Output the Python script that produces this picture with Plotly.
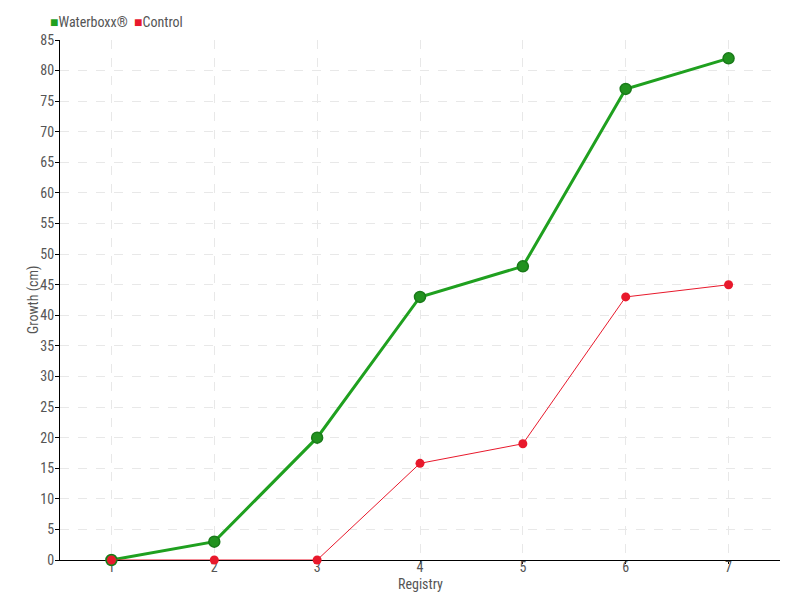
import plotly.graph_objects as go

registry = [1, 2, 3, 4, 5, 6, 7]
waterboxx = [0, 3, 20, 43, 48, 77, 82]
control = [0, 0, 0, 15.8, 19, 43, 45]
y_ticks = list(range(0, 90, 5))
series_names = ["Waterboxx®", "Control"]
x_title = "Registry"
y_title = "Growth (cm)"

FONT = "Liberation Sans Narrow, Roboto Condensed, Arial Narrow, sans-serif"
GREEN = "#1fa01f"
RED = "#e8192c"
TXT = "#555555"

fig = go.Figure()
fig.add_trace(go.Scatter(
    x=registry, y=waterboxx, name=series_names[0], mode="lines+markers", showlegend=False,
    line=dict(color=GREEN, width=3), cliponaxis=False,
    marker=dict(size=11, color="#22921f", line=dict(color="#197a19", width=1.5)),
))
fig.add_trace(go.Scatter(
    x=registry, y=control, name=series_names[1], mode="lines+markers", showlegend=False,
    line=dict(color=RED, width=1), cliponaxis=False,
    marker=dict(size=9, color=RED),
))

legend_text = (f"<span style='color:{GREEN}'>■</span>{series_names[0]}  "
               f"<span style='color:{RED}'>■</span>{series_names[1]}")
fig.add_annotation(text=legend_text, xref="paper", yref="paper", x=-0.017, y=1.0,
                   yshift=18, xanchor="left", yanchor="middle", showarrow=False,
                   font=dict(size=14, color=TXT, family=FONT))
fig.add_annotation(text=x_title, xref="paper", yref="paper", x=0.5, y=0, yshift=-24,
                   xanchor="center", yanchor="middle", showarrow=False,
                   font=dict(size=14, color=TXT, family=FONT))
fig.add_annotation(text=y_title, xref="paper", yref="paper", x=0, y=0.5, xshift=-27,
                   textangle=-90, xanchor="center", yanchor="middle", showarrow=False,
                   font=dict(size=14, color=TXT, family=FONT))

fig.update_layout(
    width=800, height=600,
    margin=dict(l=60, r=20, t=40, b=40, autoexpand=False),
    paper_bgcolor="white", plot_bgcolor="white",
    font=dict(family=FONT, size=14, color=TXT),
    showlegend=False,
    xaxis=dict(
        range=[0.5, 7.5], tickvals=registry, ticktext=[str(v) for v in registry],
        showgrid=True, gridcolor="#e8e8e8", griddash="dash", gridwidth=1,
        showline=True, linecolor="black", linewidth=1, layer="below traces",
        ticks="outside", ticklen=3, tickcolor="black", ticklabelstandoff=-9,
        tickfont=dict(size=14, color=TXT),
        zeroline=False, automargin=False,
    ),
    yaxis=dict(
        range=[0, 85], tickvals=y_ticks,
        showgrid=True, gridcolor="#e8e8e8", griddash="dash", gridwidth=1,
        showline=True, linecolor="black", linewidth=1, layer="below traces",
        ticks="outside", ticklen=4, tickcolor="black", ticklabelstandoff=-2,
        tickfont=dict(size=14, color=TXT),
        zeroline=False, automargin=False,
    ),
)

fig.write_html("out.html", config={"displayModeBar": False},
               post_script="document.body.style.margin='0';")
